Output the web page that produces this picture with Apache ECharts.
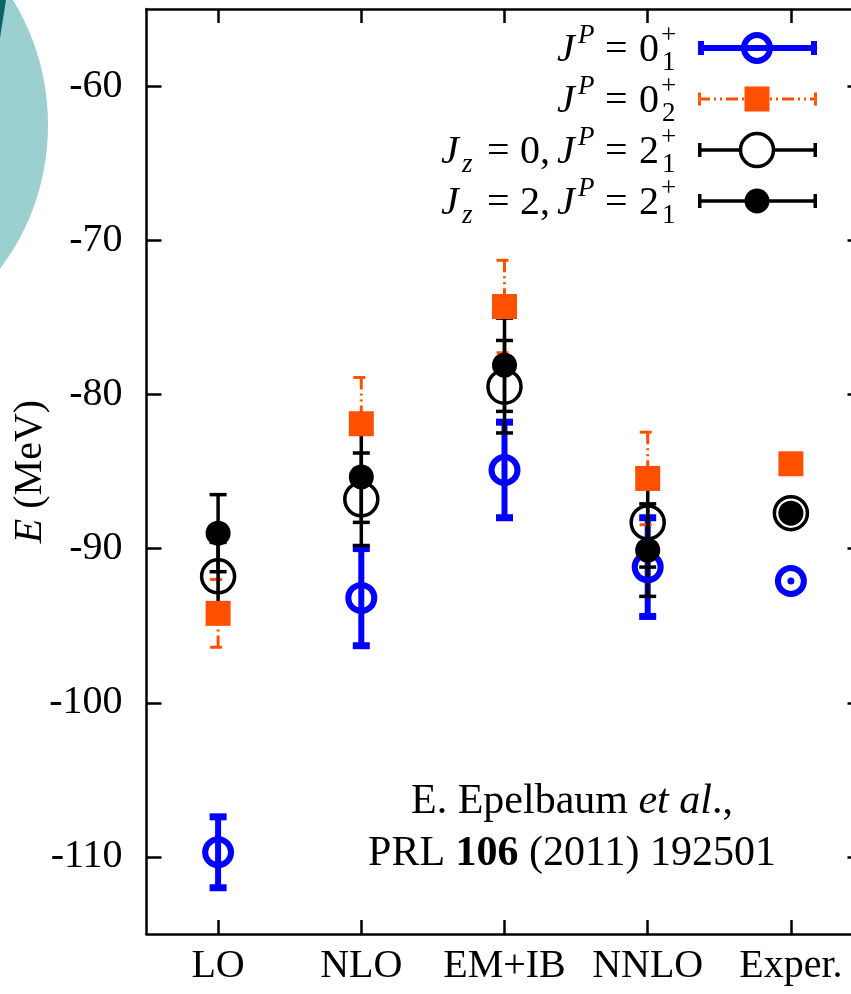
<!DOCTYPE html>
<html>
<head>
<meta charset="utf-8">
<script src="https://cdn.jsdelivr.net/npm/echarts@6/dist/echarts.min.js"></script>
<style>
html,body{margin:0;padding:0;background:#fff;}
#chart{width:851px;height:994px;}
</style>
</head>
<body>
<div id="chart"></div>
<script>
// ---------------- data ----------------
const categories = ['LO', 'NLO', 'EM+IB', 'NNLO', 'Exper.'];
const yTicks = [-110, -100, -90, -80, -70, -60];

// J^P = 0_1^+
const e01   = [-109.7, -93.2, -84.9, -91.2, -92.1];
const e01Lo = [-112.0, -96.3, -88.0, -94.4, null];
const e01Hi = [-107.4, -90.0, -81.8, -88.0, null];
// J^P = 0_2^+
const e02   = [-94.2, -81.9, -74.3, -85.45, -84.5];
const e02Lo = [-96.4, -84.9, -77.3, -88.45, null];
const e02Hi = [-92.0, -78.9, -71.3, -82.45, null];
// J_z = 0, J^P = 2_1^+
const e2z0   = [-91.8, -86.8, -79.5, -88.3, -87.7];
const e2z0Lo = [-94.0, -89.8, -82.5, -91.2, null];
const e2z0Hi = [-89.6, -83.8, -76.5, -85.4, null];
// J_z = 2, J^P = 2_1^+
const e2z2   = [-89.0, -85.35, -78.1, -90.1, -87.7];
const e2z2Lo = [-91.5, -88.3, -81.1, -93.1, null];
const e2z2Hi = [-86.5, -82.4, -75.05, -87.1, null];

// ---------------- styling ----------------
const FONT = 'Liberation Serif';
const FS = 40;
const BLUE = '#0000ff';
const ORANGE = '#ff5000';
const BLACK = '#000000';
const ORANGE_DASH = [12, 4, 2, 4, 2, 4];

function errData(v, lo, hi) {
  return v.map((val, i) => [i, val, lo[i] == null ? val : lo[i], hi[i] == null ? val : hi[i]]);
}

function makeErr(color, lw, capW, capLw, dash, dotR) {
  return function (params, api) {
    const i = api.value(0), v = api.value(1), lo = api.value(2), hi = api.value(3);
    if (lo === hi) {
      if (!dotR) return { type: 'group', children: [] };
      const c = api.coord([i, v]);
      return { type: 'circle', shape: { cx: c[0], cy: c[1], r: dotR }, style: { fill: color } };
    }
    const pHi = api.coord([i, hi]), pLo = api.coord([i, lo]);
    const base = { stroke: color, fill: null, lineWidth: lw, lineDash: dash || null, lineCap: 'butt' };
    const capStyle = Object.assign({}, base, { lineWidth: capLw });
    return {
      type: 'group',
      children: [
        { type: 'line', shape: { x1: pHi[0], y1: pHi[1], x2: pLo[0], y2: pLo[1] }, style: base },
        { type: 'line', shape: { x1: pHi[0] - capW / 2, y1: pHi[1], x2: pHi[0] + capW / 2, y2: pHi[1] }, style: capStyle },
        { type: 'line', shape: { x1: pLo[0] - capW / 2, y1: pLo[1], x2: pLo[0] + capW / 2, y2: pLo[1] }, style: capStyle }
      ]
    };
  };
}

function errSeries(v, lo, hi, render) {
  return {
    type: 'custom', xAxisIndex: 0, yAxisIndex: 0,
    data: errData(v, lo, hi), renderItem: render,
    encode: { x: 0, y: [1, 2, 3] }, silent: true, clip: false
  };
}

// ---------------- legend (decoration) ----------------
function txt(x, y, text, size, italic, align) {
  return {
    type: 'text', x: x, y: y, silent: true,
    style: {
      text: text, fontSize: size, fontFamily: FONT, fontStyle: italic ? 'italic' : 'normal',
      fill: '#000', align: align || 'left', verticalAlign: 'middle'
    }
  };
}
const legendY = [48, 99, 150, 201];
const LX1 = 698, LX2 = 817, LXC = 757;
const graphics = [];
// teal decoration at top-left
graphics.push({ type: 'circle', silent: true, z: -10, x: -152, y: 125, scaleY: 1.105,
  shape: { cx: 0, cy: 0, r: 200 }, style: { fill: '#9ccfd0' } });
graphics.push({ type: 'polygon', silent: true, z: -9,
  shape: { points: [[0, 0], [6, 0], [0, 38]] }, style: { fill: '#0a6466' } });

function legendLabel(k, jz, digit, sub) {
  const cy = legendY[k];
  const mid = cy + 2, supY = cy - 12, subY = cy + 15;
  if (jz !== null) {
    graphics.push(txt(441, mid, 'J', FS, true));
    graphics.push(txt(462, subY, 'z', 27, true));
    graphics.push(txt(487, mid, '=', FS, false));
    graphics.push(txt(520, mid, jz + ',', FS, false));
  }
  graphics.push(txt(557, mid, 'J', FS, true));
  graphics.push(txt(578, supY, 'P', 27, true));
  graphics.push(txt(605, mid, '=', FS, false));
  graphics.push(txt(639, mid, digit, FS, false));
  graphics.push(txt(661, supY, '+', 27, false));
  graphics.push(txt(662, subY, sub, 27, false));
}
legendLabel(0, null, '0', '1');
legendLabel(1, null, '0', '2');
legendLabel(2, '0', '2', '1');
legendLabel(3, '2', '2', '1');

function legendLine(cy, color, lw, capH, capLw, dash) {
  const st = { stroke: color, lineWidth: lw, lineDash: dash || null, fill: null };
  const cst = { stroke: color, lineWidth: capLw, lineDash: dash ? [5, 3] : null, fill: null };
  graphics.push({ type: 'line', silent: true, shape: { x1: LX1, y1: cy, x2: LX2, y2: cy }, style: st });
  graphics.push({ type: 'line', silent: true, shape: { x1: LX1 + capLw / 2, y1: cy - capH / 2, x2: LX1 + capLw / 2, y2: cy + capH / 2 }, style: cst });
  graphics.push({ type: 'line', silent: true, shape: { x1: LX2 - capLw / 2, y1: cy - capH / 2, x2: LX2 - capLw / 2, y2: cy + capH / 2 }, style: cst });
}
legendLine(legendY[0], BLUE, 6, 14, 6);
graphics.push({ type: 'circle', silent: true, shape: { cx: LXC, cy: legendY[0], r: 13 }, style: { fill: null, stroke: BLUE, lineWidth: 6 } });
legendLine(legendY[1], ORANGE, 3, 13, 3, ORANGE_DASH);
graphics.push({ type: 'rect', silent: true, shape: { x: LXC - 12.5, y: legendY[1] - 12.5, width: 25, height: 25 }, style: { fill: ORANGE } });
legendLine(legendY[2], BLACK, 3.5, 14, 3.5);
graphics.push({ type: 'circle', silent: true, shape: { cx: LXC, cy: legendY[2], r: 16.5 }, style: { fill: '#fff', stroke: BLACK, lineWidth: 3.5 } });
legendLine(legendY[3], BLACK, 3.5, 14, 3.5);
graphics.push({ type: 'circle', silent: true, shape: { cx: LXC, cy: legendY[3], r: 12.5 }, style: { fill: BLACK } });

// citation
graphics.push({ type: 'text', silent: true, x: 572, y: 802,
  style: { text: 'E. Epelbaum {i|et al}.,', fontSize: 42, fontFamily: FONT, fill: '#000', align: 'center', verticalAlign: 'middle',
    rich: { i: { fontStyle: 'italic', fontSize: 42, fontFamily: FONT, fill: '#000' } } } });
graphics.push({ type: 'text', silent: true, x: 572, y: 854,
  style: { text: 'PRL {b|106} (2011) 192501', fontSize: 42, fontFamily: FONT, fill: '#000', align: 'center', verticalAlign: 'middle',
    rich: { b: { fontWeight: 'bold', fontSize: 42, fontFamily: FONT, fill: '#000' } } } });

// ---------------- chart ----------------
const axisLineStyle = { color: '#000', width: 2.5 };
const chart = echarts.init(document.getElementById('chart'), null, { renderer: 'canvas' });
chart.setOption({
  animation: false,
  backgroundColor: '#fff',
  textStyle: { fontFamily: FONT },
  grid: { left: 146.5, top: 9, width: 716, height: 925, containLabel: false, outerBoundsMode: 'none' },
  xAxis: [
    { type: 'category', data: categories, position: 'bottom', boundaryGap: true,
      axisLine: { show: true, lineStyle: axisLineStyle },
      axisTick: { show: true, inside: true, alignWithLabel: true, length: 14, lineStyle: axisLineStyle },
      axisLabel: { fontFamily: FONT, fontSize: FS, color: '#000', margin: 12, interval: 0, hideOverlap: false },
      splitLine: { show: false } },
    { type: 'category', data: categories, position: 'top', boundaryGap: true,
      axisLine: { show: true, lineStyle: axisLineStyle },
      axisTick: { show: true, inside: true, alignWithLabel: true, length: 14, lineStyle: axisLineStyle },
      axisLabel: { show: false }, splitLine: { show: false } }
  ],
  yAxis: [
    { type: 'value', min: -115, max: -55, position: 'left',
      name: '{i|E} (MeV)', nameLocation: 'middle', nameRotate: 90, nameGap: 96, nameMoveOverlap: false,
      nameTextStyle: { fontFamily: FONT, fontSize: FS, color: '#000',
        rich: { i: { fontStyle: 'italic', fontFamily: FONT, fontSize: FS, color: '#000' } } },
      axisLine: { show: true, lineStyle: axisLineStyle },
      axisTick: { show: true, inside: true, length: 15, lineStyle: axisLineStyle, customValues: yTicks },
      axisLabel: { fontFamily: FONT, fontSize: FS, color: '#000', margin: 24, customValues: yTicks },
      splitLine: { show: false } },
    { type: 'value', min: -115, max: -55, position: 'right',
      axisLine: { show: true, lineStyle: axisLineStyle },
      axisTick: { show: true, inside: true, length: 15, lineStyle: axisLineStyle, customValues: yTicks },
      axisLabel: { show: false }, splitLine: { show: false } }
  ],
  series: [
    errSeries(e01, e01Lo, e01Hi, makeErr(BLUE, 6, 17, 7, null, 3.5)),
    { type: 'scatter', data: e01, symbol: 'circle', symbolSize: 26, silent: true,
      itemStyle: { color: 'rgba(0,0,0,0)', borderColor: BLUE, borderWidth: 6, opacity: 1 } },
    errSeries(e02, e02Lo, e02Hi, makeErr(ORANGE, 3, 16, 3, ORANGE_DASH, 0)),
    { type: 'scatter', data: e02, symbol: 'rect', symbolSize: 25, silent: true,
      itemStyle: { color: ORANGE, opacity: 1 } },
    errSeries(e2z0, e2z0Lo, e2z0Hi, makeErr(BLACK, 3.5, 17, 3.5, null, 0)),
    { type: 'scatter', data: e2z0, symbol: 'circle', symbolSize: 33, silent: true,
      itemStyle: { color: 'rgba(0,0,0,0)', borderColor: BLACK, borderWidth: 3.5, opacity: 1 } },
    errSeries(e2z2, e2z2Lo, e2z2Hi, makeErr(BLACK, 3.5, 17, 3.5, null, 0)),
    { type: 'scatter', data: e2z2, symbol: 'circle', symbolSize: 25, silent: true,
      itemStyle: { color: BLACK, opacity: 1 } }
  ],
  graphic: graphics
});
</script>
</body>
</html>
